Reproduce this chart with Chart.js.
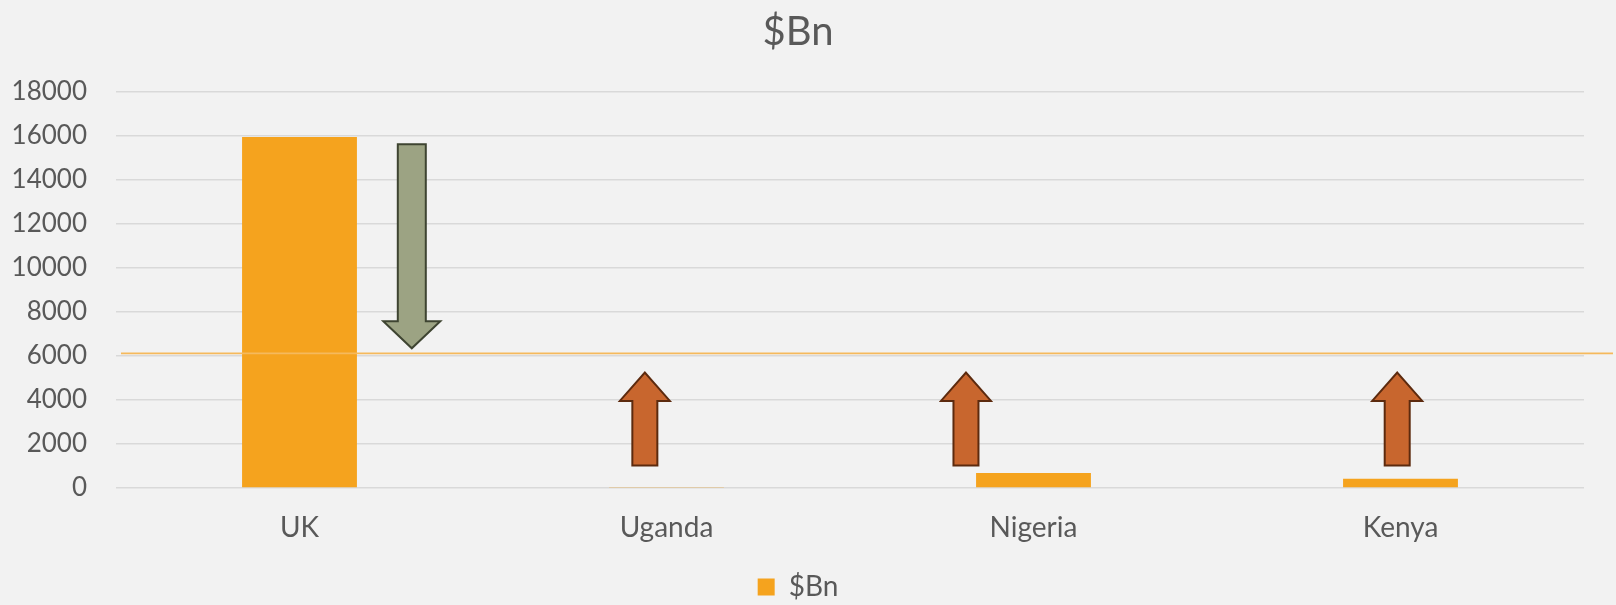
<!DOCTYPE html>
<html>
<head>
<meta charset="utf-8">
<script src="https://cdn.jsdelivr.net/npm/chart.js@4/dist/chart.umd.min.js"></script>
<style>
  html, body { margin: 0; padding: 0; background: #F2F2F2; }
  #wrap { width: 1616px; height: 605px; position: relative; }
</style>
</head>
<body>
<div id="wrap"><canvas id="c" width="1616" height="605"></canvas></div>
<script>
// ---- data ----
const categories = ["UK", "Uganda", "Nigeria", "Kenya"];
const seriesName = "$Bn";
const values = [15960, 25, 680, 420];
const yTicksMax = 18000;
const yTickStep = 2000;
const referenceLine = 6120;
// arrows: position in category units, tail value, head-base value, tip value
const arrowAt = [0.306, 0.941, 1.816, 2.991];
const arrowTail = [15630, 1020, 1020, 1020];
const arrowHeadBase = [7580, 3960, 3960, 3960];
const arrowTip = [6350, 5250, 5250, 5250];
const arrowKind = ["down", "up", "up", "up"];

const TEXT = "#595959";
const FONT = "Lato, 'Open Sans', sans-serif";

const overlay = {
  id: "overlay",
  afterDatasetsDraw(chart) {
    const ctx = chart.ctx;
    const x = chart.scales.x, y = chart.scales.y;
    // reference line
    ctx.save();
    ctx.strokeStyle = "#F5B95C";
    ctx.lineWidth = 1.6;
    const ly = y.getPixelForValue(referenceLine);
    ctx.beginPath();
    ctx.moveTo(chart.chartArea.left + 5, ly);
    ctx.lineTo(chart.width - 3, ly);
    ctx.stroke();
    // arrows
    for (let i = 0; i < arrowAt.length; i++) {
      const down = arrowKind[i] === "down";
      const cx = x.getPixelForValue(arrowAt[i]);
      const yt = y.getPixelForValue(arrowTail[i]);
      const yb = y.getPixelForValue(arrowHeadBase[i]);
      const yp = y.getPixelForValue(arrowTip[i]);
      const sw = down ? 14 : 12.5;
      const hw = down ? 28.5 : 25;
      ctx.beginPath();
      ctx.moveTo(cx - sw, yt);
      ctx.lineTo(cx + sw, yt);
      ctx.lineTo(cx + sw, yb);
      ctx.lineTo(cx + hw, yb);
      ctx.lineTo(cx, yp);
      ctx.lineTo(cx - hw, yb);
      ctx.lineTo(cx - sw, yb);
      ctx.closePath();
      ctx.fillStyle = down ? "#9CA383" : "#C8662E";
      ctx.fill();
      ctx.lineWidth = 2;
      ctx.lineJoin = "miter";
      ctx.strokeStyle = down ? "#3E4431" : "#5C2A0E";
      ctx.stroke();
    }
    ctx.restore();
  }
};

new Chart(document.getElementById("c"), {
  type: "bar",
  data: {
    labels: categories,
    datasets: [{
      label: seriesName,
      data: values,
      backgroundColor: "#F5A31E",
      borderWidth: 0,
      categoryPercentage: 1.0,
      barPercentage: 0.313
    }]
  },
  options: {
    responsive: false,
    animation: false,
    layout: { padding: { left: 12, right: 32, top: 0, bottom: -6 } },
    plugins: {
      title: {
        display: true,
        text: seriesName,
        color: TEXT,
        font: { family: FONT, size: 40, weight: "normal" },
        padding: { top: 8, bottom: 36 }
      },
      legend: {
        display: true,
        position: "bottom",
        labels: {
          color: TEXT,
          font: { family: FONT, size: 28 },
          boxWidth: 17,
          boxHeight: 17,
          padding: 5
        }
      },
      tooltip: { enabled: false }
    },
    scales: {
      x: {
        grid: { display: false, drawTicks: false },
        border: { display: false },
        ticks: { color: TEXT, font: { family: FONT, size: 28, lineHeight: 1.0 }, padding: 26 }
      },
      y: {
        min: 0,
        max: yTicksMax,
        grid: { color: "#D9D9D9", lineWidth: 1.5, drawTicks: false },
        border: { display: false },
        afterFit: (scale) => { scale.width = 104; },
        ticks: {
          stepSize: yTickStep, color: TEXT, font: { family: FONT, size: 26 }, padding: 29,
          callback: (v) => String(v)
        }
      }
    }
  },
  plugins: [overlay]
});
</script>
</body>
</html>
